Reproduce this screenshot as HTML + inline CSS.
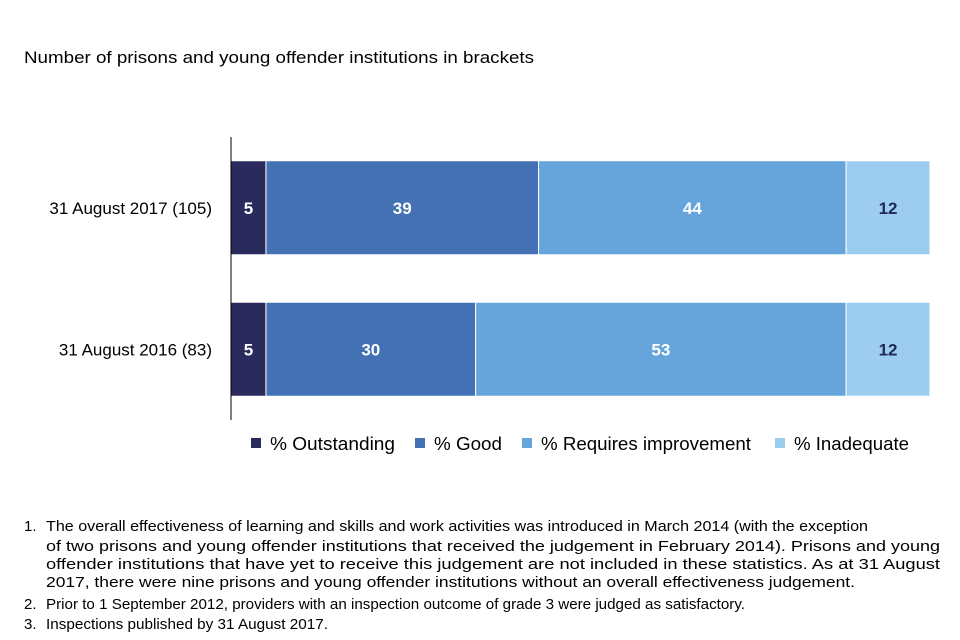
<!DOCTYPE html>
<html><head><meta charset="utf-8"><style>
body{margin:0;background:#fff}
svg{display:block;font-family:"Liberation Sans","DejaVu Sans",sans-serif}
</style></head><body>
<svg id="c" width="960" height="640">
<text x="24" y="63" font-size="17" textLength="510" lengthAdjust="spacingAndGlyphs" fill="#000">Number of prisons and young offender institutions in brackets</text>
<g id="bars"></g>
<line x1="231" y1="137" x2="231" y2="420" stroke="#000" stroke-width="1"/>
<g id="legend"></g>
<g font-size="15" fill="#000">
<text x="24" y="531">1.</text><text x="46" y="531" textLength="822" lengthAdjust="spacingAndGlyphs">The overall effectiveness  of learning and skills and work activities was introduced in March 2014 (with the exception</text>
<text x="46" y="551" textLength="894" lengthAdjust="spacingAndGlyphs">of two prisons and young offender institutions that received the judgement in February 2014). Prisons and young</text>
<text x="46" y="569" textLength="894" lengthAdjust="spacingAndGlyphs">offender institutions that have yet to receive this judgement are not included in these statistics. As at 31 August</text>
<text x="46" y="587" textLength="809" lengthAdjust="spacingAndGlyphs">2017, there were nine prisons and young offender institutions without an overall effectiveness  judgement.</text>
<text x="24" y="609">2.</text><text x="46" y="609" textLength="699" lengthAdjust="spacingAndGlyphs">Prior to 1 September 2012, providers with an inspection outcome of grade 3 were judged as satisfactory.</text>
<text x="24" y="629">3.</text><text x="46" y="629" textLength="282" lengthAdjust="spacingAndGlyphs">Inspections published by 31 August 2017.</text>
</g>
</svg>
<script>
const categories=["31 August 2017 (105)","31 August 2016 (83)"];
const seriesNames=["% Outstanding","% Good","% Requires improvement","% Inadequate"];
const outstanding=[5,5];
const good=[39,30];
const requiresImprovement=[44,53];
const inadequate=[12,12];
const colors=["#2b2a5c","#4471b3","#66a5dc","#9ccdf1"];
const labelColors=["#fff","#fff","#fff","#1f2a55"];
const series=[outstanding,good,requiresImprovement,inadequate];
const ns="http://www.w3.org/2000/svg";
const x0=231,x1=930;
const xs=v=>x0+(x1-x0)*v/100;
const bandTop=137,bandH=141.5,barH=94;
const ys=i=>bandTop+i*bandH+(bandH-barH)/2;
const g=document.getElementById('bars');
function mk(t,a){const e=document.createElementNS(ns,t);for(const k in a)e.setAttribute(k,a[k]);return e;}
categories.forEach((c,i)=>{
  const y=ys(i);
  const lab=mk('text',{x:212,y:y+barH/2+6,'text-anchor':'end','font-size':17,fill:'#000'});
  
  
  lab.textContent=c;g.appendChild(lab);
  let acc=0;
  series.forEach((s,j)=>{
    const v=s[i];
    const r=mk('rect',{x:xs(acc),y:y,width:xs(acc+v)-xs(acc),height:barH,fill:colors[j],stroke:'#fff','stroke-width':1});
    
    
    g.appendChild(r);
    const t=mk('text',{x:(xs(acc)+xs(acc+v))/2,y:y+barH/2+6,'text-anchor':'middle','font-size':17,'font-weight':'bold',fill:labelColors[j]});
    
    
    t.textContent=v;g.appendChild(t);
    acc+=v;
  });
});
const lg=document.getElementById('legend');
const lx=[251,415,522,775];
const lw=[125,68,210,115];
seriesNames.forEach((n,j)=>{
  const r=mk('rect',{x:lx[j],y:438,width:10,height:10,fill:colors[j]});
  
  
  lg.appendChild(r);
  const t=mk('text',{x:lx[j]+19,y:450,'font-size':18,fill:'#000',textLength:lw[j],lengthAdjust:'spacingAndGlyphs'});
  
  
  t.textContent=n;lg.appendChild(t);
});
</script>
</body></html>
